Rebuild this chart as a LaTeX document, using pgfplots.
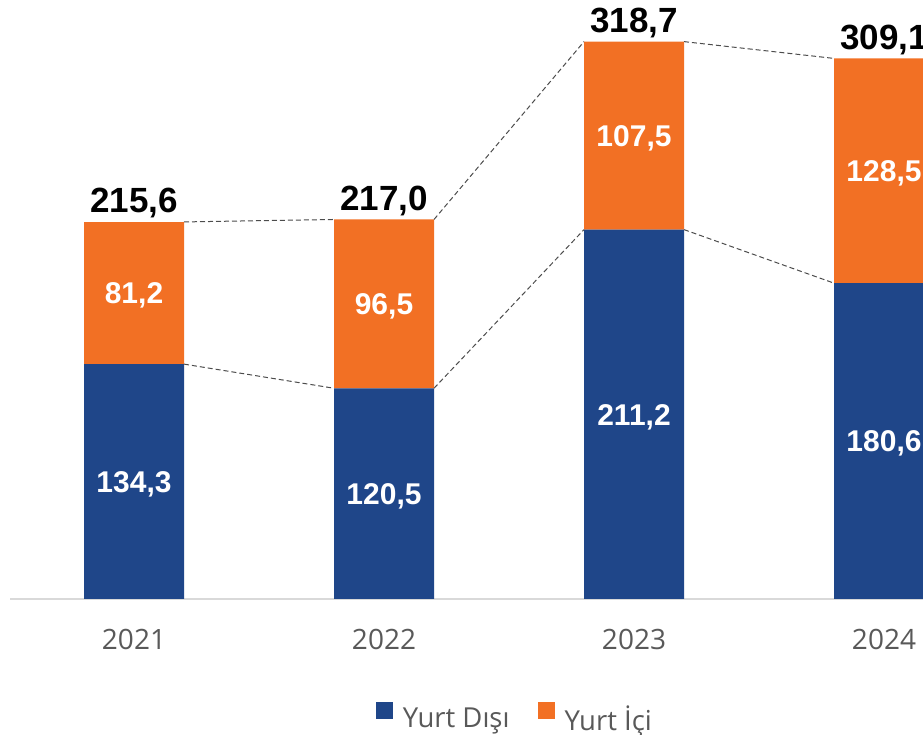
\documentclass[border=0pt]{standalone}
\usepackage{pgfplots}
\pgfplotsset{compat=1.18}
\usepackage{pgfplotstable}
\usepackage{fontspec}
\setmainfont{Open Sans}
\newfontfamily\arial{Liberation Sans}
\definecolor{dis}{HTML}{1F4689}
\definecolor{ici}{HTML}{F27024}
\definecolor{txt}{HTML}{595959}
\definecolor{axl}{HTML}{D9D9D9}

\pgfplotstableread{
x blue orange total
0 134.3 81.2 215.6
1 120.5 96.5 217.0
2 211.2 107.5 318.7
3 180.6 128.5 309.1
}\vol

\pgfplotsset{
  base/.style={
    width=913pt, height=599pt, scale only axis,
    xmin=-0.496, xmax=3.156, ymin=0, ymax=342.5,
    /pgf/number format/use comma,
    /pgf/number format/fixed,
    /pgf/number format/fixed zerofill,
    /pgf/number format/precision=1,
    /pgf/number format/assume math mode=true,
  },
}
\tikzset{
  inlab/.style={font=\arial\bfseries\fontsize{30}{32}\selectfont, text=white,
    anchor=base, inner sep=0pt, yshift=-10.7pt},
}

\begin{document}
\begin{tikzpicture}
\begin{axis}[
  base,
  ybar stacked,
  bar width=0.4,
  axis x line*=bottom,
  axis y line=none,
  x axis line style={axl, line width=1.5pt},
  xtick={0,1,2,3},
  xticklabels={2021,2022,2023,2024},
  xtick style={draw=none},
  xticklabel style={font=\fontsize{28}{30}\selectfont, text=txt,
    anchor=north, inner sep=0pt, yshift=-30pt},
  legend columns=2,
  legend style={draw=none, at={(0.553,-0.1987)}, anchor=center,
    font=\fontsize{27.5}{29}\selectfont, text=txt,
    /tikz/every odd column/.append style={column sep=8pt},
    /tikz/every even column/.append style={column sep=26pt}},
  legend image code/.code={\fill[#1] (0pt,-1pt) rectangle (17pt,16pt);},
]
\addplot[fill=dis, draw=none] table[x=x, y=blue] {\vol};
\addplot[fill=ici, draw=none] table[x=x, y=orange] {\vol};
\legend{Yurt Dışı, Yurt İçi}
\end{axis}

\begin{axis}[base, hide axis, unbounded coords=jump]
% connectors between bar corners
\addplot[black!70, line width=1pt, dash pattern=on 5pt off 3pt] coordinates {
  (0.2,215.6) (0.8,217.0) (1,nan) (1.2,217.0) (1.8,318.7) (2,nan) (2.2,318.7) (2.8,309.1)};
\addplot[black!70, line width=1pt, dash pattern=on 5pt off 3pt] coordinates {
  (0.2,134.3) (0.8,120.5) (1,nan) (1.2,120.5) (1.8,211.2) (2,nan) (2.2,211.2) (2.8,180.6)};
% labels
\addplot[draw=none, mark=none, nodes near coords, point meta=\thisrow{blue},
  nodes near coords style={inlab}] table[x=x, y expr=\thisrow{blue}/2] {\vol};
\addplot[draw=none, mark=none, nodes near coords, point meta=\thisrow{orange},
  nodes near coords style={inlab}] table[x=x, y expr=\thisrow{blue}+\thisrow{orange}/2] {\vol};
\addplot[draw=none, mark=none, nodes near coords, point meta=\thisrow{total},
  nodes near coords style={font=\arial\bfseries\fontsize{35}{37}\selectfont, text=black,
    anchor=base, inner sep=0pt, yshift=9pt}] table[x=x, y=total] {\vol};
\end{axis}
\pgfresetboundingbox
\path[use as bounding box] (-10pt,-136pt) rectangle (913pt,599pt);
\end{tikzpicture}
\end{document}
